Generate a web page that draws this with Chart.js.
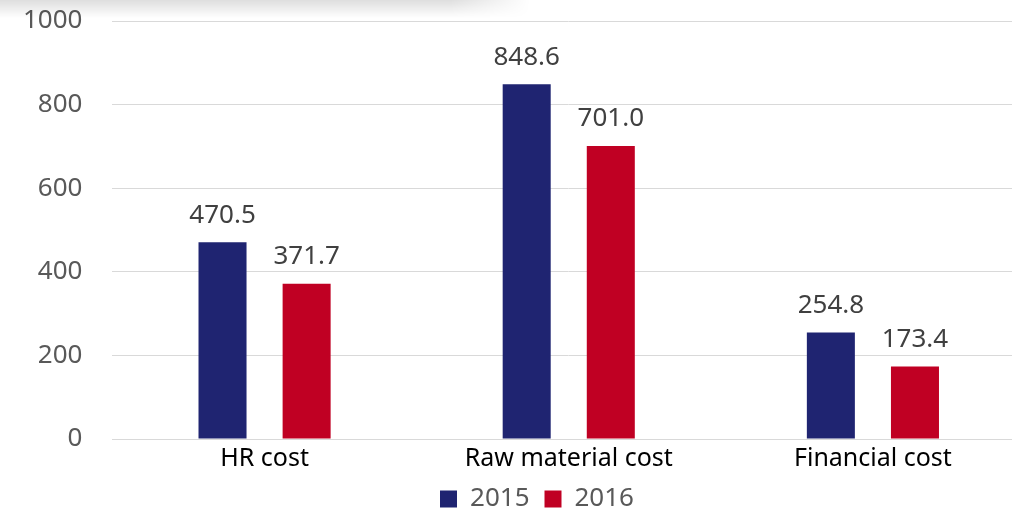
<!DOCTYPE html>
<html>
<head>
<meta charset="utf-8">
<script src="https://cdn.jsdelivr.net/npm/chart.js@4/dist/chart.umd.min.js"></script>
<style>
  html, body { margin: 0; padding: 0; background: #fff; overflow: hidden; }
  .wrap { position: relative; width: 1030px; height: 510px; }
  .shade {
    position: absolute; left: 0; top: 0; width: 530px; height: 18px;
    background: linear-gradient(to bottom, rgba(0,0,0,0.13), rgba(0,0,0,0));
    -webkit-mask-image: linear-gradient(to right, #000 85%, transparent);
    mask-image: linear-gradient(to right, #000 85%, transparent);
    pointer-events: none;
  }
</style>
</head>
<body>
<div class="wrap">
  <canvas id="costChart"></canvas>
  <div class="shade"></div>
</div>
<script>
const categories = ["HR cost", "Raw material cost", "Financial cost"];
const years = ["2015", "2016"];
const cost2015 = [470.5, 848.6, 254.8];
const cost2016 = [371.7, 701.0, 173.4];
const yTicks = [0, 200, 400, 600, 800, 1000];

const FONT = "'Noto Sans', 'Open Sans', sans-serif";

// value labels above each bar
const barValues = {
  id: "barValues",
  afterDatasetsDraw(chart) {
    const ctx = chart.ctx;
    ctx.save();
    ctx.font = "26px " + FONT;
    ctx.fillStyle = "#404040";
    ctx.textAlign = "center";
    ctx.textBaseline = "bottom";
    chart.data.datasets.forEach((ds, i) => {
      chart.getDatasetMeta(i).data.forEach((bar, j) => {
        ctx.fillText(ds.data[j].toFixed(1), bar.x, bar.y - 14);
      });
    });
    ctx.restore();
  }
};

// nudge the legend a bit to the right
const legendShift = {
  id: "legendShift",
  afterLayout(chart) {
    if (chart.legend) {
      chart.legend.left += 28;
      chart.legend.right += 28;
    }
  }
};

new Chart(document.getElementById("costChart"), {
  type: "bar",
  data: {
    labels: categories,
    datasets: [
      { label: years[0], data: cost2015, backgroundColor: "#1F2471" },
      { label: years[1], data: cost2016, backgroundColor: "#C00023" }
    ]
  },
  options: {
    responsive: true,
    maintainAspectRatio: false,
    animation: false,
    layout: { padding: { left: -7, right: 5, top: 21, bottom: -12 } },
    datasets: {
      bar: { categoryPercentage: 0.553, barPercentage: 0.571 }
    },
    plugins: {
      tooltip: { enabled: false },
      legend: {
        position: "bottom",
        labels: {
          boxWidth: 17,
          boxHeight: 17,
          padding: 15,
          color: "#595959",
          font: { family: FONT, size: 26 }
        }
      }
    },
    scales: {
      x: {
        grid: { display: false },
        border: { color: "#d9d9d9", width: 1 },
        ticks: {
          color: "#000",
          padding: -3,
          maxRotation: 0,
          font: { family: FONT, size: 25 }
        }
      },
      y: {
        min: 0,
        max: 1000,
        afterBuildTicks(scale) {
          scale.ticks = yTicks.map(v => ({ value: v }));
        },
        // the wide label gap should not push the plot down
        afterFit(scale) {
          scale.paddingTop = 0;
          scale.paddingBottom = 0;
        },
        grid: { color: "#d9d9d9", lineWidth: 1, drawTicks: false },
        border: { display: false },
        ticks: {
          color: "#595959",
          padding: 30,
          font: { family: FONT, size: 26 },
          callback: v => String(v)
        }
      }
    }
  },
  plugins: [barValues, legendShift]
});
</script>
</body>
</html>
